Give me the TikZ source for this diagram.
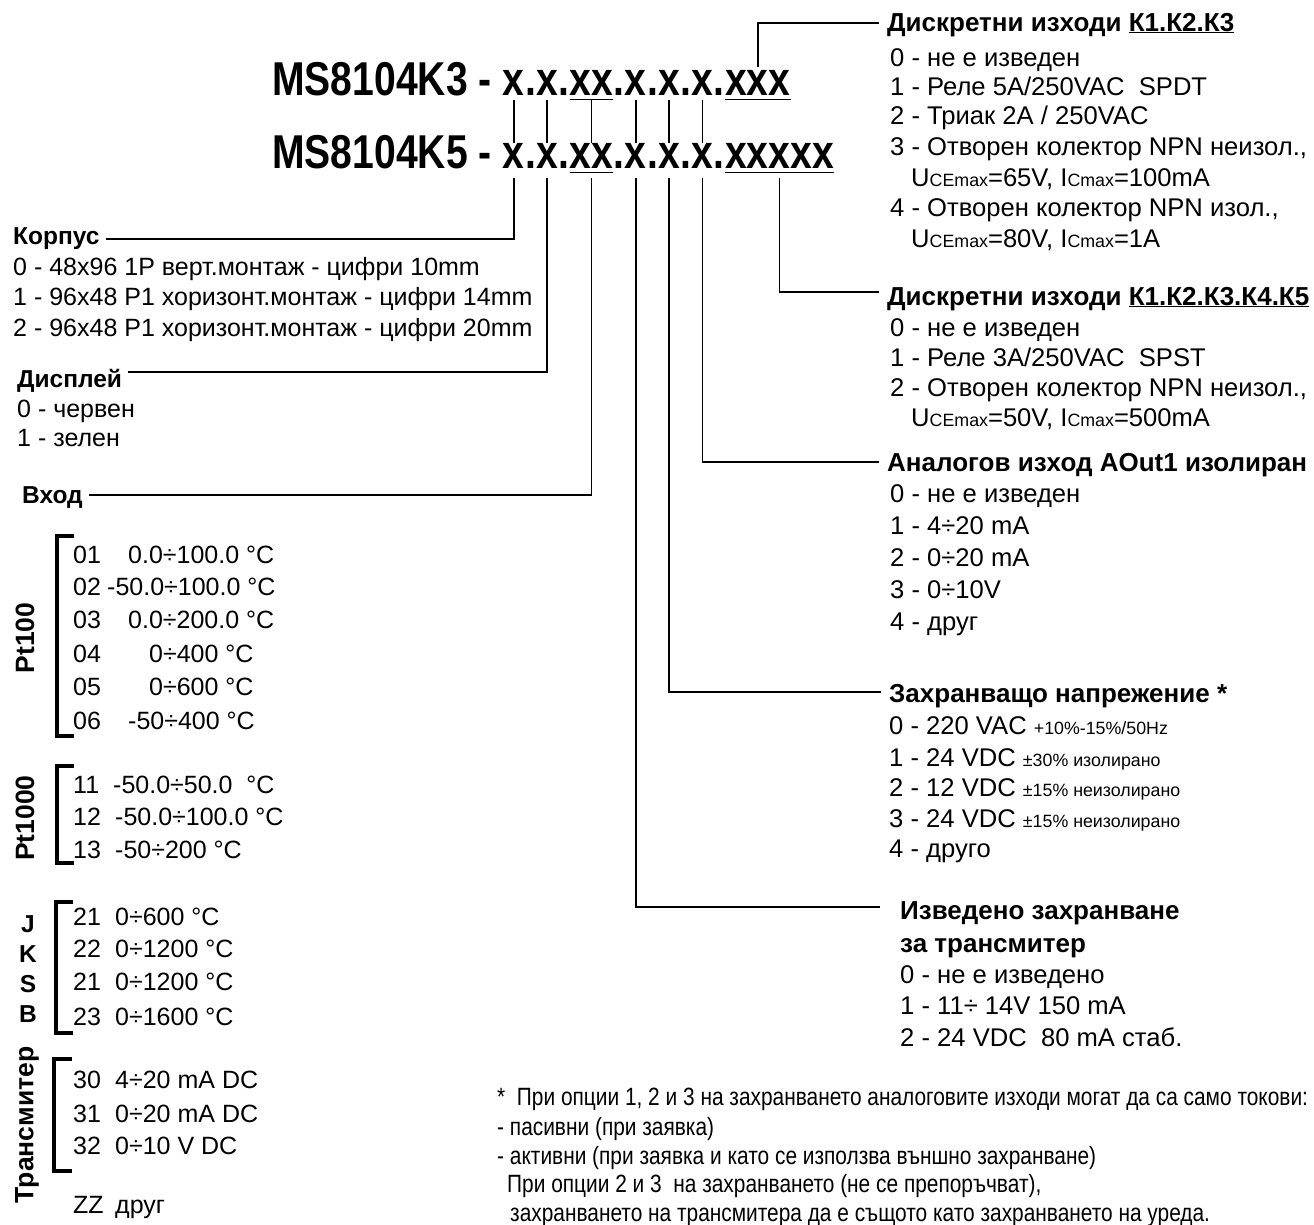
\documentclass[tikz,border=0pt]{standalone}
\usepackage{fontspec}
\setmainfont{Liberation Sans}
\newfontfamily\titlefont[FakeStretch=0.823]{Liberation Sans Bold}
\newfontfamily\notefont[FakeStretch=0.835]{Liberation Sans}
\newcommand\smtxt[1]{{\fontsize{17.8}{20}\selectfont #1}}
\begin{document}
\begin{tikzpicture}[x=1pt,y=-1pt,
  tt/.style={inner sep=0pt, anchor=base west, font=\titlefont\fontsize{47.5}{50}\selectfont},
  txt/.style={inner sep=0pt, anchor=base west, font=\fontsize{25}{28}\selectfont},
  hd/.style={inner sep=0pt, anchor=base west, font=\bfseries\fontsize{24.5}{28}\selectfont},
  rot/.style={inner sep=0pt, rotate=90, anchor=center, font=\bfseries\fontsize{26.5}{28}\selectfont},
  rtxt/.style={inner sep=0pt, anchor=base west, font=\fontsize{25.6}{28}\selectfont},
  rhd/.style={inner sep=0pt, anchor=base west, font=\bfseries\fontsize{26}{28}\selectfont},
  note/.style={inner sep=0pt, anchor=base west, font=\notefont\fontsize{25}{28}\selectfont},
  conn/.style={line width=1.8pt},
  brk/.style={line width=3.2pt},
  ul/.style={line width=1.8pt}]
\useasboundingbox (0,0) rectangle (1314,1224);

% ---------- title K3 ----------
\node[tt] (k3) at (272,95) {MS8104K3 -\ \mbox{}};
\node[tt] (a1) at (k3.base east) {x};
\node[tt] (a1d) at (a1.base east) {.};
\node[tt] (a2) at (a1d.base east) {x};
\node[tt] (a2d) at (a2.base east) {.};
\node[tt] (a3) at (a2d.base east) {xx};
\node[tt] (a3d) at (a3.base east) {.};
\node[tt] (a4) at (a3d.base east) {x};
\node[tt] (a4d) at (a4.base east) {.};
\node[tt] (a5) at (a4d.base east) {x};
\node[tt] (a5d) at (a5.base east) {.};
\node[tt] (a6) at (a5d.base east) {x};
\node[tt] (a6d) at (a6.base east) {.};
\node[tt] (a7) at (a6d.base east) {xxx};
% ---------- title K5 ----------
\node[tt] (k5) at (272,168) {MS8104K5 -\ \mbox{}};
\node[tt] (b1) at (k5.base east) {x};
\node[tt] (b1d) at (b1.base east) {.};
\node[tt] (b2) at (b1d.base east) {x};
\node[tt] (b2d) at (b2.base east) {.};
\node[tt] (b3) at (b2d.base east) {xx};
\node[tt] (b3d) at (b3.base east) {.};
\node[tt] (b4) at (b3d.base east) {x};
\node[tt] (b4d) at (b4.base east) {.};
\node[tt] (b5) at (b4d.base east) {x};
\node[tt] (b5d) at (b5.base east) {.};
\node[tt] (b6) at (b5d.base east) {x};
\node[tt] (b6d) at (b6.base east) {.};
\node[tt] (b7) at (b6d.base east) {xxxxx};

\foreach \n in {a3,a7,b3,b7}
  \draw[ul] ([yshift=-4.5pt]\n.base west) -- ([yshift=-4.5pt]\n.base east);
\foreach \i in {1,2,4,5,6}
  \draw[conn] ([yshift=-5pt]a\i.base) -- (b\i.north);
\draw[conn] ([yshift=-4.5pt]a3.base) -- (b3.north);

% ---------- left column ----------
\node[hd] (korpus) at (13,244) {Корпус};
\node[txt] (k0) at (13,275) {0 - 48x96 1P верт.монтаж - цифри 10mm};
\node[txt] (k1) at (13,305) {1 - 96x48 P1 хоризонт.монтаж - цифри 14mm};
\node[txt] (k2) at (13,336) {2 - 96x48 P1 хоризонт.монтаж - цифри 20mm};
\node[hd] (displ) at (17,387) {Дисплей};
\node[txt] (d0) at (17,417) {0 - червен};
\node[txt] (d1) at (17,446) {1 - зелен};
\node[hd] (vhod) at (22,503) {Вход};

\node[rot] (pt100) at (25,638) {Pt100};
\draw[brk] (74,536) -- (57,536) -- (57,736) -- (74,736);
\node[txt] (n01) at (73,563) {01}; \node[txt] (v01) at (128,563) {0.0÷100.0 °C};
\node[txt] (n02) at (73,595) {02}; \node[txt] (v02) at (107,595) {-50.0÷100.0 °C};
\node[txt] (n03) at (73,628) {03}; \node[txt] (v03) at (128,628) {0.0÷200.0 °C};
\node[txt] (n04) at (73,662) {04}; \node[txt] (v04) at (149,662) {0÷400 °C};
\node[txt] (n05) at (73,695) {05}; \node[txt] (v05) at (149,695) {0÷600 °C};
\node[txt] (n06) at (73,729) {06}; \node[txt] (v06) at (128,729) {-50÷400 °C};

\node[rot] (pt1000) at (25,818) {Pt1000};
\draw[brk] (74,766) -- (57,766) -- (57,863) -- (74,863);
\node[txt] (n11) at (73,793) {11}; \node[txt] (v11) at (113,793) {-50.0÷50.0\ \ °C};
\node[txt] (n12) at (73,825) {12}; \node[txt] (v12) at (115,825) {-50.0÷100.0 °C};
\node[txt] (n13) at (73,858) {13}; \node[txt] (v13) at (115,858) {-50÷200 °C};

\node[hd, anchor=base] (tj) at (28,932) {J};
\node[hd, anchor=base] (tk) at (28,962) {K};
\node[hd, anchor=base] (ts) at (28,992) {S};
\node[hd, anchor=base] (tb) at (28,1022) {B};
\draw[brk] (73,902) -- (56,902) -- (56,1033) -- (73,1033);
\node[txt] (n21) at (73,925) {21}; \node[txt] (v21) at (115,925) {0÷600 °C};
\node[txt] (n22) at (73,957) {22}; \node[txt] (v22) at (115,957) {0÷1200 °C};
\node[txt] (n21b) at (73,990) {21}; \node[txt] (v21b) at (115,990) {0÷1200 °C};
\node[txt] (n23) at (73,1025) {23}; \node[txt] (v23) at (115,1025) {0÷1600 °C};

\node[rot] (trans) at (27,1125) {Трансмитер};
\draw[brk] (72,1059) -- (54,1059) -- (54,1171) -- (72,1171);
\node[txt] (n30) at (73,1088) {30}; \node[txt] (v30) at (115,1088) {4÷20 mA DC};
\node[txt] (n31) at (73,1122) {31}; \node[txt] (v31) at (115,1122) {0÷20 mA DC};
\node[txt] (n32) at (73,1154) {32}; \node[txt] (v32) at (115,1154) {0÷10 V DC};
\node[txt] (nzz) at (73,1213) {ZZ}; \node[txt] (vzz) at (115,1213) {друг};

% ---------- right column ----------
\node[rhd] (r1) at (887,31) {Дискретни изходи \underline{К1.К2.К3}};
\node[rtxt] at (890,66) {0 - не е изведен};
\node[rtxt] at (890,95) {1 - Реле 5A/250VAC\ \ SPDT};
\node[rtxt] at (890,124) {2 - Триак 2A / 250VAC};
\node[rtxt] at (890,155) {3 - Отворен колектор NPN неизол.,};
\node[rtxt] at (911,186) {U\smtxt{CEmax}=65V, I\smtxt{Cmax}=100mA};
\node[rtxt] at (890,216) {4 - Отворен колектор NPN изол.,};
\node[rtxt] at (911,247) {U\smtxt{CEmax}=80V, I\smtxt{Cmax}=1A};

\node[rhd] (r2) at (887,305) {Дискретни изходи \underline{К1.К2.К3.К4.К5}};
\node[rtxt] at (890,336) {0 - не е изведен};
\node[rtxt] at (890,366) {1 - Реле 3A/250VAC\ \ SPST};
\node[rtxt] at (890,396) {2 - Отворен колектор NPN неизол.,};
\node[rtxt] at (911,426) {U\smtxt{CEmax}=50V, I\smtxt{Cmax}=500mA};

\node[rhd] (r3) at (887,471) {Аналогов изход AOut1 изолиран};
\node[rtxt] at (890,502) {0 - не е изведен};
\node[rtxt] at (890,534) {1 - 4÷20 mA};
\node[rtxt] at (890,566) {2 - 0÷20 mA};
\node[rtxt] at (890,598) {3 - 0÷10V};
\node[rtxt] at (890,630) {4 - друг};

\node[rhd] (r4) at (889,702) {Захранващо напрежение *};
\node[rtxt] at (889,734) {0 - 220 VAC \smtxt{+10\%-15\%/50Hz}};
\node[rtxt] at (889,766) {1 - 24 VDC \smtxt{±30\% изолирано}};
\node[rtxt] at (889,796) {2 - 12 VDC \smtxt{±15\% неизолирано}};
\node[rtxt] at (889,827) {3 - 24 VDC \smtxt{±15\% неизолирано}};
\node[rtxt] at (889,857) {4 - друго};

\node[rhd] (r5) at (900,919) {Изведено захранване};
\node[rhd] (r5b) at (900,952) {за трансмитер};
\node[rtxt] at (900,983) {0 - не е изведено};
\node[rtxt] at (900,1014) {1 - 11÷ 14V 150 mA};
\node[rtxt] at (900,1046) {2 - 24 VDC\ \ 80 mA стаб.};

% ---------- footnote ----------
\node[note] (f1) at (497,1105) {*\ \ При опции 1, 2 и 3 на захранването аналоговите изходи могат да са само токови:};
\node[note] (f2) at (497,1135) {- пасивни (при заявка)};
\node[note] (f3) at (497,1164) {- активни (при заявка и като се използва външно захранване)};
\node[note] (f4) at (507,1192) {При опции 2 и 3\ \ на захранването (не се препоръчват),};
\node[note] (f5) at (510,1221) {захранването на трансмитера да е същото като захранването на уреда.};

% ---------- connectors ----------
\draw[conn] ([yshift=-10pt]b1.base) |- ([xshift=6pt,yshift=5pt]korpus.base east);
\draw[conn] ([yshift=-10pt]b2.base) |- ([xshift=6pt,yshift=15pt]displ.base east);
\draw[conn] ([yshift=-10pt]b3.base) |- ([xshift=6pt,yshift=8pt]vhod.base east);
\draw[conn] ([yshift=-10pt]b4.base) |- ([xshift=-20pt,yshift=12pt]r5.base west);
\draw[conn] ([yshift=-10pt]b5.base) |- ([xshift=-8pt,yshift=10pt]r4.base west);
\draw[conn] ([yshift=-10pt]b6.base) |- ([xshift=-8pt,yshift=9pt]r3.base west);
\draw[conn] ([yshift=-10pt]b7.base) |- ([xshift=-8pt,yshift=13pt]r2.base west);
\draw[conn] ([yshift=3pt]a7.north) |- ([xshift=-8pt,yshift=8pt]r1.base west);
\end{tikzpicture}
\end{document}
